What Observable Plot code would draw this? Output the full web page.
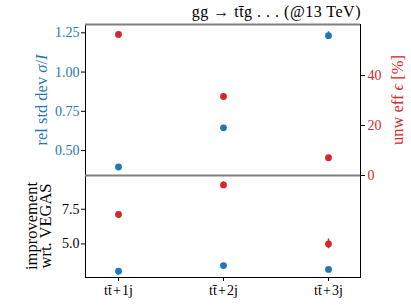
<!DOCTYPE html>
<html>
<head>
<meta charset="utf-8">
<script src="https://cdn.jsdelivr.net/npm/d3@7"></script>
<script src="https://cdn.jsdelivr.net/npm/@observablehq/plot@0.6"></script>
<style>
  html, body { margin: 0; padding: 0; background: white; }
  #wrap { position: relative; width: 411px; height: 308px; font-family: "Liberation Serif", serif; }
  #wrap svg { position: absolute; left: 0; background: transparent !important; overflow: visible; }
  .lbl { position: absolute; white-space: nowrap; transform: translate(-50%, -50%) rotate(-90deg); font-size: 16.5px; line-height: 13.5px; text-align: center; }
  #title { position: absolute; right: 50px; top: 3px; font-size: 16px; letter-spacing: 0.5px; white-space: nowrap; }
</style>
</head>
<body>
<div id="wrap">
  <div id="title">gg → tt̄g . . . (@13 TeV)</div>
  <div class="lbl" style="left:42px; top:100px; color:#1f77b4;">rel std dev <i>σ</i>/<i>I</i></div>
  <div class="lbl" style="left:398px; top:100px; color:#d62728;">unw eff <i>ϵ</i> [%]</div>
  <div class="lbl" style="left:38px; top:226px; color:#000;">improvement<br>wrt. VEGAS</div>
</div>
<script>
const categories = ["tt̄\u200A+\u200A1j", "tt̄\u200A+\u200A2j", "tt̄\u200A+\u200A3j"];
const relStd = [0.395, 0.645, 1.232];
const relStdErr = [0.004, 0.006, 0.025];
const unwEff = [56.4, 31.6, 7.1];
const unwEffErr = [0.6, 0.6, 0.5];
const impStd = [3.03, 3.44, 3.16];
const impStdErr = [0.03, 0.05, 0.05];
const impEff = [7.12, 9.25, 5.0];
const impEffErr = [0.12, 0.22, 0.35];

const leftTicks = [0.50, 0.75, 1.00, 1.25];
const rightTicks = [0, 20, 40];
const bottomTicks = [5.0, 7.5];
const topDomain = [0.341, 1.303];
const rightDomain = [0, 60.4];
const bottomDomain = [2.58, 9.93];

const blue = "#1f77b4", red = "#d62728";
const table = categories.map((c, i) => ({
  cat: c,
  relStd: relStd[i], relStdErr: relStdErr[i],
  unwEff: unwEff[i], unwEffErr: unwEffErr[i],
  impStd: impStd[i], impStdErr: impStdErr[i],
  impEff: impEff[i], impEffErr: impEffErr[i]
}));

const W = 411, ML = 85, MR = 51;
const xOpts = {type: "point", domain: categories, padding: 0.3};
const font = {fontFamily: "Liberation Serif, serif", fontSize: "14px", background: "transparent", overflow: "visible"};

function errMarks(v, e, color) {
  return [
    Plot.ruleX(table, {x: "cat", y1: d => d[v] - d[e], y2: d => d[v] + d[e], stroke: color, strokeWidth: 1.5}),
    Plot.dot(table, {x: "cat", y: v, r: 3.4, fill: color, stroke: "none"})
  ];
}

// top panel, left (blue) axis
const top1 = Plot.plot({
  width: W, height: 177, marginLeft: ML, marginRight: MR, marginTop: 24, marginBottom: 2,
  style: font,
  x: {...xOpts, axis: null},
  y: {domain: topDomain},
  marks: [
    Plot.axisY({ticks: leftTicks, tickFormat: d3.format(".2f"), label: null, tickSize: 4, tickPadding: 2, fill: blue, stroke: "black"}),
    ...errMarks("relStd", "relStdErr", blue)
  ]
});

// top panel, right (red) axis
const top2 = Plot.plot({
  width: W, height: 177, marginLeft: ML, marginRight: MR, marginTop: 24, marginBottom: 2,
  style: font,
  x: {...xOpts, axis: null},
  y: {domain: rightDomain},
  marks: [
    Plot.frame({stroke: "black", strokeWidth: 1}),
    Plot.axisY({anchor: "right", ticks: rightTicks, tickFormat: d3.format("d"), label: null, tickSize: 4, tickPadding: 3, fill: red, stroke: "black"}),
    Plot.ruleY([rightDomain[0], rightDomain[1]], {stroke: "#808080", strokeWidth: 2}),
    ...errMarks("unwEff", "unwEffErr", red)
  ]
});

// bottom panel
const bottom = Plot.plot({
  width: W, height: 135, marginLeft: ML, marginRight: MR, marginTop: 2, marginBottom: 31,
  style: font,
  x: xOpts,
  y: {domain: bottomDomain},
  marks: [
    Plot.frame({stroke: "black", strokeWidth: 1}),
    Plot.axisY({ticks: bottomTicks, tickFormat: d3.format(".1f"), label: null, tickSize: 4, tickPadding: 2}),
    Plot.axisX({label: null, tickSize: 4, tickPadding: 4}),
    ...errMarks("impStd", "impStdErr", blue),
    ...errMarks("impEff", "impEffErr", red)
  ]
});

const wrap = document.getElementById("wrap");
bottom.style.top = "173px";
top1.style.top = "0px";
top2.style.top = "0px";
wrap.appendChild(bottom);
wrap.appendChild(top1);
wrap.appendChild(top2);
</script>
</body>
</html>
